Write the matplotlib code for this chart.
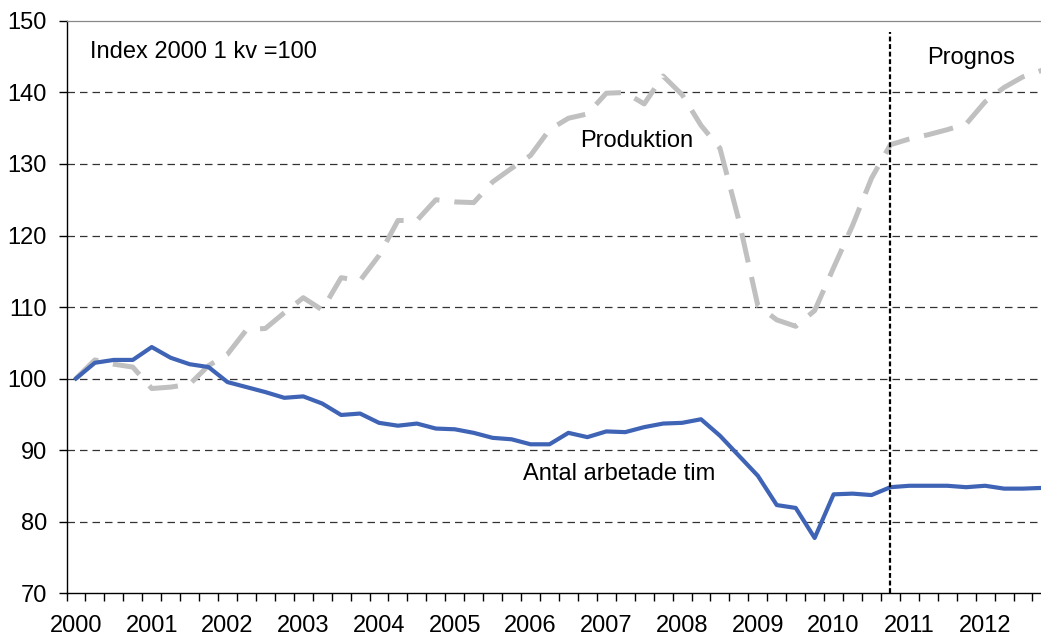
import numpy as np
import matplotlib
matplotlib.use("Agg")
import matplotlib.pyplot as plt

plt.rcParams['font.family'] = ['Liberation Sans', 'DejaVu Sans']

# quarterly index values, 2000 Q1 .. 2012 Q4
years = [str(y) for y in range(2000, 2013)]
arbetade_tim = [100.0, 102.2, 102.6, 102.6, 104.4, 102.9, 102.0, 101.6,
                99.5, 98.8, 98.1, 97.3, 97.5, 96.5, 94.9, 95.1,
                93.8, 93.4, 93.7, 93.0, 92.9, 92.4, 91.7, 91.5,
                90.8, 90.8, 92.4, 91.8, 92.6, 92.5, 93.2, 93.7,
                93.8, 94.3, 92.0, 89.2, 86.4, 82.3, 81.9, 77.7,
                83.8, 83.9, 83.7, 84.8, 85.0, 85.0, 85.0, 84.8,
                85.0, 84.6, 84.6, 84.7]
produktion = [100.0, 102.6, 102.0, 101.6, 98.6, 98.8, 99.2, 101.8,
              103.4, 106.8, 107.0, 109.2, 111.3, 109.6, 114.1, 113.7,
              117.2, 122.1, 122.1, 125.0, 124.7, 124.6, 127.5, 129.4,
              131.2, 134.8, 136.4, 137.0, 139.9, 140.0, 138.4, 142.3,
              139.7, 135.4, 132.2, 122.1, 110.2, 108.2, 107.3, 109.5,
              115.5, 121.4, 128.0, 132.7, 133.5, 134.1, 134.8, 135.6,
              138.7, 140.7, 142.2, 143.1]
prognos_start = 43  # 2010 Q4

n = len(arbetade_tim)
x = np.arange(n)

fig = plt.figure(figsize=(10.41, 6.38), dpi=100)
ax = fig.add_axes([66.5 / 1041, 0.0705, 1 - 66.5 / 1041, 0.8966])

# grid
for yv in range(80, 150, 10):
    ax.axhline(yv, color='#333333', lw=0.9, dashes=(6, 4), zorder=1)

ax.plot(x, produktion, color='#C0C0C0', lw=3.6, dashes=(6.0, 3.0),
        dash_capstyle='butt', solid_joinstyle='round', zorder=3)
ax.plot(x, arbetade_tim, color='#3F63B5', lw=3.0, solid_joinstyle='round', zorder=4)

ax.plot([prognos_start, prognos_start], [70, 148.5], color='black', lw=1.6,
        dashes=(2.2, 1.2), zorder=5, clip_on=False)

ax.text(0.74, 145.7, 'Index 2000 1 kv =100', fontsize=17, va='center', ha='left')
ax.text(47.25, 144.8, 'Prognos', fontsize=17, va='center', ha='center')
ax.text(29.6, 133.2, 'Produktion', fontsize=17, va='center', ha='center')
ax.text(28.7, 86.6, 'Antal arbetade tim', fontsize=17, va='center', ha='center')

# axes styling
ax.spines['right'].set_visible(False)
ax.spines['top'].set_color('#888888')
ax.spines['top'].set_linewidth(0.9)
ax.spines['left'].set_linewidth(1.0)
ax.spines['bottom'].set_linewidth(1.0)

ax.set_yticks(range(70, 151, 10))
ax.tick_params(axis='y', direction='out', length=6, width=1.0, pad=8, labelsize=17)

ax.set_xticks(np.arange(-0.5, n, 1.0))
ax.set_xticklabels([])
ax.tick_params(axis='x', which='major', direction='out', length=6, width=1.0)
ax.set_xticks(np.arange(0, n, 4), minor=True)
ax.set_xticklabels(years, minor=True)
ax.tick_params(axis='x', which='minor', length=0, pad=16, labelsize=17)

# limits last, set_xticks would widen them
ax.set_ylim(70, 150)
ax.set_xlim(-0.5, (1041 - 76) / 18.94)

fig.savefig('out.png', dpi=100)
